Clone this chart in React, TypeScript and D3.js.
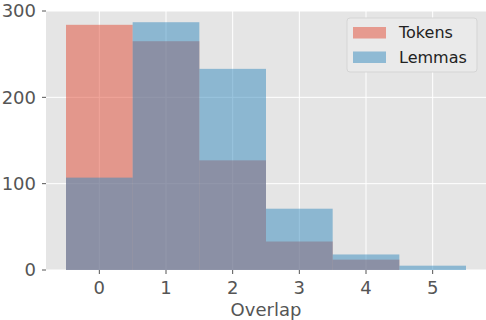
import React, { useEffect, useRef } from 'react';
import * as d3 from 'd3';

// overlap bins (0..5) and counts
const bins = [0, 1, 2, 3, 4, 5];
const tokens = [284, 265, 127, 33, 12, 0];
const lemmas = [107, 287, 233, 71, 18, 5];
const yTicks = [0, 100, 200, 300];
const seriesNames = ['Tokens', 'Lemmas'];
const seriesColors = ['#E24A33', '#348ABD'];

const App = () => {
  const ref = useRef<SVGSVGElement>(null);
  const width = 486;
  const height = 320;
  const margin = { top: 11, right: 0, bottom: 50, left: 46 };

  useEffect(() => {
    const svg = d3.select(ref.current);
    svg.selectAll('*').remove();

    const x = d3.scaleLinear().domain([-0.8, 5.8]).range([margin.left, width - margin.right]);
    const y = d3.scaleLinear().domain([0, 300]).range([height - margin.bottom, margin.top]);
    const font = "'DejaVu Sans', sans-serif";

    // panel background
    svg.append('rect')
      .attr('x', x(-0.8))
      .attr('y', y(300))
      .attr('width', x(5.8) - x(-0.8))
      .attr('height', y(0) - y(300))
      .attr('fill', '#E5E5E5');

    // grid
    svg.append('g').selectAll('line.v').data(bins).enter().append('line')
      .attr('x1', d => x(d)).attr('x2', d => x(d))
      .attr('y1', y(0)).attr('y2', y(300))
      .attr('stroke', '#fff').attr('stroke-width', 1);
    svg.append('g').selectAll('line.h').data(yTicks).enter().append('line')
      .attr('x1', x(-0.8)).attr('x2', x(5.8))
      .attr('y1', d => y(d)).attr('y2', d => y(d))
      .attr('stroke', '#fff').attr('stroke-width', 1);

    // histogram bars, Tokens first then Lemmas on top
    [tokens, lemmas].forEach((vals, si) => {
      svg.append('g').selectAll('rect').data(vals).enter().append('rect')
        .attr('x', (d, i) => x(bins[i] - 0.5))
        .attr('width', (d, i) => x(bins[i] + 0.5) - x(bins[i] - 0.5))
        .attr('y', d => y(d))
        .attr('height', d => y(0) - y(d))
        .attr('fill', seriesColors[si])
        .attr('fill-opacity', 0.5);
    });

    // x ticks
    const xt = svg.append('g');
    xt.selectAll('line').data(bins).enter().append('line')
      .attr('x1', d => x(d)).attr('x2', d => x(d))
      .attr('y1', y(0)).attr('y2', y(0) + 4)
      .attr('stroke', '#555').attr('stroke-width', 1);
    xt.selectAll('text').data(bins).enter().append('text')
      .attr('x', d => x(d))
      .attr('y', y(0) + 24)
      .attr('text-anchor', 'middle')
      .style('font-family', font)
      .style('font-size', '18px')
      .style('fill', '#555')
      .text(d => d);

    // y ticks
    const yt = svg.append('g');
    yt.selectAll('line').data(yTicks).enter().append('line')
      .attr('x1', x(-0.8) - 4).attr('x2', x(-0.8))
      .attr('y1', d => y(d)).attr('y2', d => y(d))
      .attr('stroke', '#555').attr('stroke-width', 1);
    yt.selectAll('text').data(yTicks).enter().append('text')
      .attr('x', x(-0.8) - 10)
      .attr('y', d => y(d))
      .attr('dy', '0.36em')
      .attr('text-anchor', 'end')
      .style('font-family', font)
      .style('font-size', '18px')
      .style('fill', '#555')
      .text(d => d);

    // axis label
    svg.append('text')
      .attr('x', (x(-0.8) + x(5.8)) / 2)
      .attr('y', y(0) + 46)
      .attr('text-anchor', 'middle')
      .style('font-family', font)
      .style('font-size', '18px')
      .style('fill', '#555')
      .text('Overlap');

    // legend
    const lg = svg.append('g').attr('transform', 'translate(347, 18)');
    lg.append('rect')
      .attr('width', 130).attr('height', 54)
      .attr('rx', 3)
      .attr('fill', '#EAEAEA')
      .attr('stroke', '#D5D5D5')
      .attr('stroke-width', 1);
    seriesNames.forEach((name, i) => {
      lg.append('rect')
        .attr('x', 6).attr('y', 9 + i * 24.5)
        .attr('width', 33).attr('height', 11.5)
        .attr('fill', seriesColors[i])
        .attr('fill-opacity', 0.5);
      lg.append('text')
        .attr('x', 52).attr('y', 20 + i * 24.5)
        .style('font-family', font)
        .style('font-size', '16px')
        .style('fill', '#222')
        .text(name);
    });
  }, []);

  return (
    <svg
      ref={ref}
      width={width}
      height={height}
      style={{ position: 'fixed', top: 0, left: 0, background: '#fff' }}
    />
  );
};

export default App;
